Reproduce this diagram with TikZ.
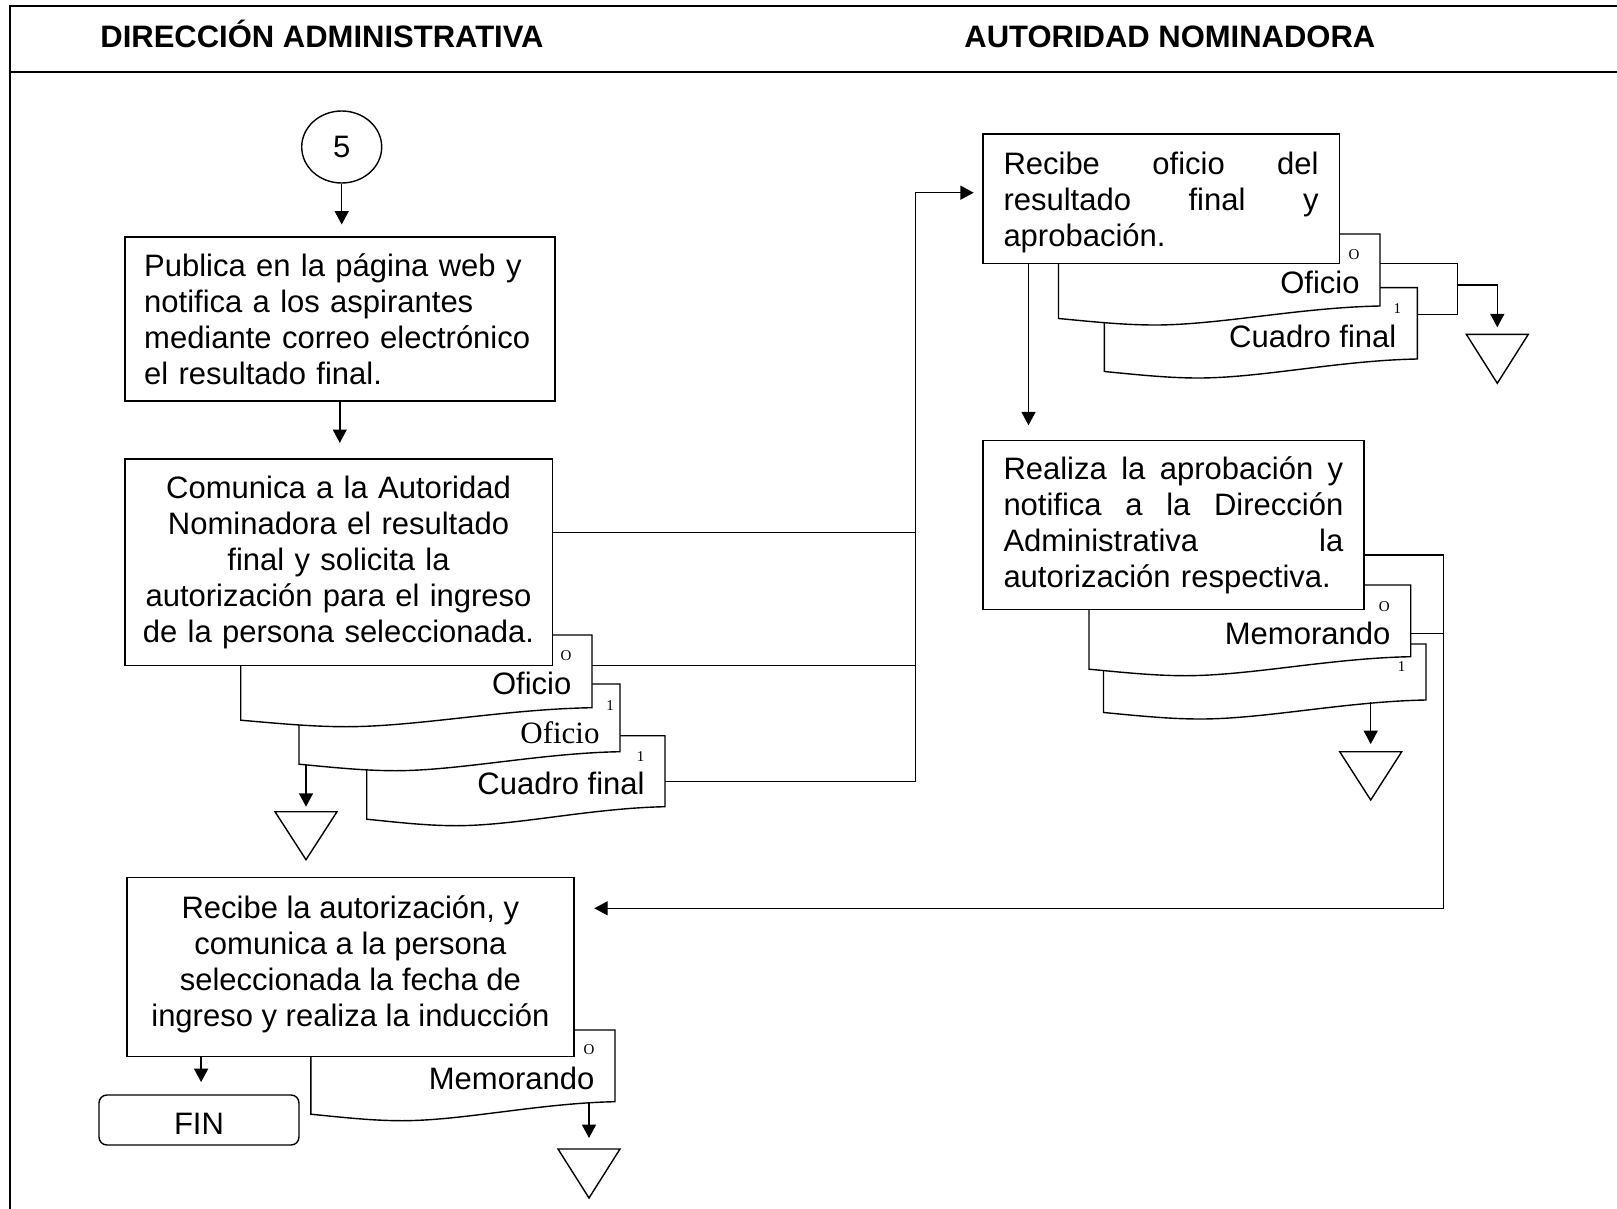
\documentclass[tikz,border=0pt]{standalone}
\usepackage{fontspec}
\setmainfont{Liberation Sans}
\newfontfamily\docserif{Liberation Serif}
\usetikzlibrary{arrows.meta,shapes.geometric,calc}

\newcommand\bodyfont{\fontsize{15.5pt}{18pt}\selectfont}
\newcommand\tagfont{\docserif\fontsize{7.5pt}{8pt}\selectfont}

\tikzset{
  line/.style={line width=0.7pt},
  arr/.style={line width=0.7pt,-{Triangle[length=6.7pt,width=7pt]}},
  frameline/.style={line width=1pt},
  docline/.style={line width=0.7pt,fill=white},
  procbox/.style={draw,line width=0.7pt,fill=white,rectangle,inner ysep=0pt,font=\bodyfont},
  headtxt/.style={font=\bfseries\fontsize{15.5pt}{18pt}\selectfont,inner sep=0pt},
  doctxt/.style={font=\bodyfont,inner sep=0pt,anchor=base east},
  docsrf/.style={font=\docserif\fontsize{15.5pt}{18pt}\selectfont,inner sep=0pt,anchor=base east},
  doctag/.style={font=\tagfont,inner sep=0pt},
}

% document symbol: name, left x, top y, right x, y of the lower right corner
\newcommand\docpaper[5]{%
  \pgfmathsetmacro\dpW{#4-#2}%
  \pgfmathsetmacro\dpYL{#5+12.5}%
  \pgfmathsetmacro\dpXa{#2+0.75*\dpW}%
  \pgfmathsetmacro\dpXb{#2+0.5*\dpW}%
  \pgfmathsetmacro\dpXc{#2+0.3*\dpW}%
  \pgfmathsetmacro\dpXd{#2+0.2*\dpW}%
  \pgfmathsetmacro\dpXe{#2+0.1*\dpW}%
  \pgfmathsetmacro\dpYa{#5+1.5}%
  \pgfmathsetmacro\dpYb{\dpYL+6.5}%
  \pgfmathsetmacro\dpYc{\dpYL+3}%
  \draw[docline] (#4,#3) -- (#4,#5)
    .. controls (\dpXa,\dpYa) and (\dpXb,\dpYb) .. (\dpXc,\dpYb)
    .. controls (\dpXd,\dpYb) and (\dpXe,\dpYc) .. (#2,\dpYL)
    -- (#2,#3) -- cycle;
}

% archive triangle: name, centre x, top y, height
\newcommand\archive[4]{%
  \coordinate (#1) at (#2,#3);
  \draw[line] (#1) ++(-31,0) -- ++(62,0) -- ++(-31,#4) -- cycle;
}

\begin{document}
\begin{tikzpicture}[x=0.5pt,y=-0.5pt]
\useasboundingbox (0,0) rectangle (1617,1209);

% frame and lane headers
\draw[frameline] (1617,6) -- (10,6) -- (10,1209);
\draw[frameline] (10,71.7) -- (1617,71.7);
\node[headtxt,anchor=base west] (h1) at (100,47.2) {DIRECCIÓN ADMINISTRATIVA};
\node[headtxt,anchor=base west] (h2) at (964,47.2) {AUTORIDAD NOMINADORA};

% documents of the second step
\docpaper{dC}{366.7}{735.7}{665}{806.7}
\node[doctag] (dC-n) at (640.7,756.7) {1};
\node[doctxt] (dC-t) at (645,794.5) {Cuadro final};
\docpaper{dB}{299}{684}{620}{751.7}
\node[doctag] (dB-n) at (610,706) {1};
\node[docsrf] (dB-t) at (600,743) {Oficio};
\docpaper{dA}{240.7}{635}{592}{707.7}
\node[doctag] (dA-n) at (566,656) {O};
\node[doctxt] (dA-t) at (571.7,694) {Oficio};

% documents received by the authority
\docpaper{dE}{1104.3}{287.7}{1417.3}{359}
\node[doctag] (dE-n) at (1397.3,308.3) {1};
\node[doctxt] (dE-t) at (1396.7,347) {Cuadro final};
\docpaper{dD}{1058.5}{234}{1380}{306}
\node[doctag] (dD-n) at (1354,255) {O};
\node[doctxt] (dD-t) at (1360,293.3) {Oficio};

% approval memo
\docpaper{dG}{1103.5}{644}{1426}{700}
\node[doctag] (dG-n) at (1401.7,666.7) {1};
\docpaper{dF}{1089}{585}{1410.7}{656.7}
\node[doctag] (dF-n) at (1384.3,606.7) {O};
\node[doctxt] (dF-t) at (1390.7,644.3) {Memorando};

% final memo
\docpaper{dH}{310.8}{1030}{615}{1101.7}
\node[doctag] (dH-n) at (589,1050) {O};
\node[doctxt] (dH-t) at (594.7,1089) {Memorando};

% connection points on the documents
\coordinate (dA-r) at (592,665.7);
\coordinate (dC-r) at (665,781.7);
\coordinate (dD-r) at (1380,263.3);
\coordinate (dE-r) at (1417.3,314.3);
\coordinate (dF-r) at (1410.7,633.3);
\coordinate (dB-s) at (306,764);
\coordinate (dG-s) at (1370.7,702);
\coordinate (dH-s) at (589,1103);

% connector and process boxes
\node[draw,line width=0.7pt,ellipse,minimum width=40pt,minimum height=36pt,inner sep=0pt,font=\bodyfont] (c5) at (341.7,147) {5};

\node[procbox,minimum width=215pt,minimum height=82pt,inner xsep=9.7pt,text width=195.6pt,align=left] (b1) at (339.8,319)
  {Publica en la página web y\\notifica a los aspirantes\\mediante correo electrónico\\el resultado final.};

\node[procbox,minimum width=213.75pt,minimum height=103.35pt,inner xsep=0pt,text width=205pt,align=center] (b2) at (338.55,562.35)
  {Comunica a la Autoridad\\Nominadora el resultado\\final y solicita la\\autorización para el ingreso\\de la persona seleccionada.};

\node[procbox,minimum width=178.25pt,minimum height=64.65pt,inner xsep=10.35pt] (b3) at (1161.05,198.65)
  {\raisebox{-2pt}[\height][\depth]{\parbox{157.55pt}{\raggedright
   \makebox[157.55pt]{Recibe\hfill oficio\hfill del}\\\makebox[157.55pt]{resultado\hfill final\hfill y}\\aprobación.}}};

\node[procbox,minimum width=190.6pt,minimum height=84.45pt,inner xsep=10.35pt,text width=169.9pt,align=left] (b4) at (1173.4,524.85)
  {\makebox[169.9pt]{Realiza\hfill la\hfill aprobación\hfill y}\\\makebox[169.9pt]{notifica\hfill a\hfill la\hfill Dirección}\\\makebox[169.9pt]{Administrativa\hfill la}\\autorización respectiva.};

\node[procbox,minimum width=223.6pt,minimum height=89.55pt,inner xsep=0pt] (b5) at (350.4,967.2)
  {\raisebox{1.5pt}[\height][\depth]{\parbox{215pt}{\centering
   Recibe la autorización, y\\comunica a la persona\\seleccionada la fecha de\\ingreso y realiza la inducción}}};

\node[draw,line width=0.7pt,rounded corners=4pt,minimum width=100pt,minimum height=25pt,inner sep=0pt,font=\bodyfont] (fin) at (199,1120)
  {\raisebox{-2pt}[\height][\depth]{FIN}};

% archive triangles
\archive{t1}{306}{811.7}{48}
\archive{t2}{1497.3}{334.3}{49}
\archive{t3}{1370.7}{751.7}{48.3}
\archive{t4}{589}{1149}{49}

% junction points
\coordinate (jL) at (915.7,192.7);
\coordinate (kTop) at (1457.7,263.3);
\coordinate (kBot) at (1457.7,314.3);
\coordinate (kMid) at (1457.7,285);
\coordinate (jR) at (1443.3,908.3);
\coordinate (b2link) at ([yshift=15pt]b2.east);
\coordinate (b4link) at ([yshift=-15pt]b4.east);

% main flow
\draw[arr,shorten >=5.9pt] (c5.south) -- (c5.south |- b1.north);
\draw[arr,shorten >=7.7pt] (b1.south) -- (b1.south |- b2.north);
\draw[line] (b2link) -- (b2link -| jL);
\draw[line] (dA-r) -- (dA-r -| jL);
\draw[arr,shorten >=4.2pt] (dC-r) -| (jL) -- (jL -| b3.west);
\draw[arr,shorten >=7.2pt] ([xshift=23.2pt]b3.south west) -- ([xshift=23.2pt]b4.north west);
\draw[arr,shorten >=9.8pt] (b4link) -| (jR) -- (jR -| b5.east);
\draw[line] (dF-r) -- (dF-r -| jR);
\draw[arr,shorten >=6.1pt] ([xshift=37.5pt]b5.south west) -- ([xshift=37.5pt]b5.south west |- fin.north);

% documents to the archive
\draw[arr,shorten >=2.5pt] (dB-s) -- (t1);
\draw[line] (dD-r) -- (kTop) -- (kBot) -- (dE-r);
\draw[arr,shorten >=3.5pt] (kMid) -| (t2);
\draw[arr,shorten >=3.8pt] (dG-s) -- (t3);
\draw[arr,shorten >=5.5pt] (dH-s) -- (t4);
\end{tikzpicture}
\end{document}
